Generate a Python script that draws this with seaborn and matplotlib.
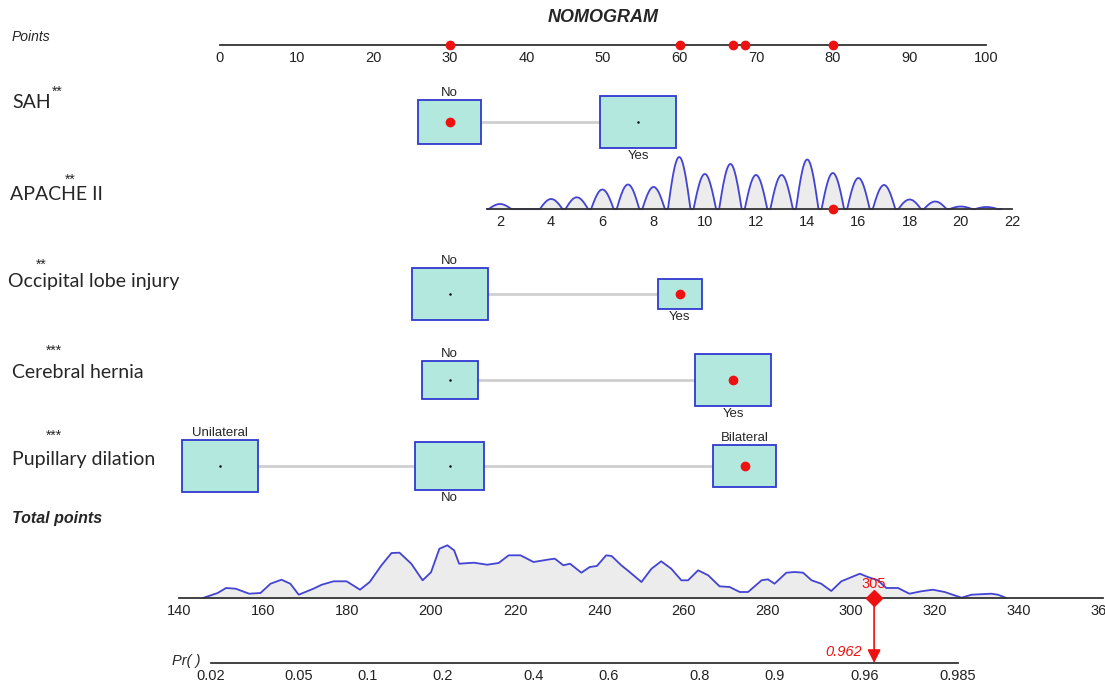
"""
Nomogram: SAH, APACHE II, occipital lobe injury, cerebral hernia and
pupillary dilation -> total points -> predicted probability.
"""

import numpy as np
import matplotlib
matplotlib.use("Agg")
import matplotlib.pyplot as plt
import seaborn as sns
from matplotlib import font_manager
from matplotlib.patches import Rectangle, ConnectionPatch
from matplotlib.transforms import blended_transform_factory
from matplotlib.ticker import NullLocator


# ---------------- values ----------------
point_ticks = list(range(0, 101, 10))

sah_levels = ['No', 'Yes']
sah_points = [30, 54.6]
sah_freq = [0.41, 0.59]

occipital_levels = ['No', 'Yes']
occipital_points = [30, 60]
occipital_freq = [0.75, 0.25]

hernia_levels = ['No', 'Yes']
hernia_points = [30, 67]
hernia_freq = [0.35, 0.65]

pupil_levels = ['Unilateral', 'No', 'Bilateral']
pupil_points = [0, 30, 68.5]
pupil_freq = [0.40, 0.33, 0.27]

apache_values = list(range(2, 22))
apache_density = [5, 0, 10, 11.7, 19.5, 24.5, 22, 52, 35, 45,
                  34, 34, 49.5, 36, 31, 24, 9.5, 7.5, 2.5, 2]
apache_ticks = list(range(2, 23, 2))
apache_range = [1.5, 22]
apache_value_ends = [2, 22]          # APACHE II values ...
apache_point_ends = [36.55, 103.4]   # ... and their points

total_grid = [145.7, 149.2, 151.2, 153.5, 156.7, 159.4, 161.8, 164.4, 166.5,
              168.5, 172, 174, 176.8, 179.9, 183.1, 185.4, 188.2, 190.6,
              192.5, 195.3, 198, 200, 202, 203.9, 205.5, 206.7, 210.2, 213.4,
              216.1, 218.5, 221.3, 224.4, 228.3, 229.5, 231.5, 233.1, 235.8,
              237.8, 239.5, 241.7, 243, 245.3, 247, 250.1, 252.5, 254.8,
              257.2, 259.6, 261.2, 263.6, 266, 268.7, 271.1, 273.5, 275.5,
              278.7, 280.2, 281.8, 284.6, 286.6, 288.6, 290.6, 292.9, 295.3,
              297.7, 302.1, 304, 306.4, 308.4, 311.2, 313.9, 316.7, 319.5,
              322.3, 326.3, 328.7, 333.4, 335, 337]
total_density = [0, 5, 10, 9.3, 4.3, 5, 14.3, 18.3, 14.3,
                 3.3, 9.3, 13.3, 16.7, 16.7, 8.3, 16, 32.7, 45,
                 45.3, 34.3, 17.7, 25.7, 49.3, 52.7, 47.7, 34.3, 35.3, 33.3,
                 35, 42.7, 42.7, 36, 38.7, 39.3, 32.7, 34.3, 25.3,
                 31, 32, 42.7, 42, 32.7, 27, 16, 29.3, 36.7,
                 29.3, 17.7, 17.7, 27.7, 22.7, 11.7, 11, 6, 6,
                 17.7, 18.7, 14.3, 25.3, 26, 25.3, 17.7, 14.3, 7,
                 16.7, 24.3, 21, 17.7, 10, 10, 4.3, 6.7, 8.3,
                 6, 0.3, 3.3, 4.3, 3.3, 0]
total_ticks = list(range(140, 361, 20))

pr_ticks = [0.02, 0.05, 0.1, 0.2, 0.4, 0.6, 0.8, 0.9, 0.96, 0.985]
pr_centre, pr_spread = 233.3, 22.02   # logit(p) = (total - centre) / spread

# the patient marked in red
pick_sah = 'No'
pick_apache = 15
pick_occipital = 'Yes'
pick_hernia = 'Yes'
pick_pupil = 'Bilateral'
pick_pr_label = 0.962


# ---------------- layout and style ----------------
W, H = 1105, 687
PT0, PX_PER_PT = 220, 7.66       # points scale: 0 at x=220 px
TOT0, PX_PER_TOT = 179, 4.2      # total points scale: 140 at x=179 px
BOX_W, BOX_H = 76, 52            # biggest box of a variable, px

BOX_FILL = '#B3E8DF'
BOX_EDGE = '#3038D0'
CURVE = '#4343D4'
SHADE = '#ECECEC'
LINK = '#CFCFCF'
MARK = '#EE1111'

sns.set_style("white")
names = {f.name for f in font_manager.fontManager.ttflist}
NARROW = 'Liberation Sans Narrow' if 'Liberation Sans Narrow' in names else 'Liberation Sans'
TICK_SIZE = 12 if NARROW.endswith('Narrow') else 10.5
plt.rcParams['font.family'] = [NARROW, 'DejaVu Sans']
LABEL_FONT = 'Lato'

fig = plt.figure(figsize=(W / 100, H / 100), dpi=100)
fig.patch.set_facecolor('white')


def row_axes(yc, h):
    """Full-width transparent axes centred on pixel row yc, y in px."""
    ax = fig.add_axes([0, 1 - (yc + h / 2) / H, 1, h / H])
    ax.set_ylim(-h / 2, h / 2)
    ax.patch.set_alpha(0)
    for s in ax.spines.values():
        s.set_visible(False)
    ax.set_yticks([])
    ax.set_xticks([])
    return ax


def scale_line(ax, lo, hi, ticks, labels=None):
    sp = ax.spines['bottom']
    sp.set_visible(True)
    sp.set_position(('data', 0))
    sp.set_bounds(lo, hi)
    sp.set_linewidth(1.3)
    sp.set_color('#333333')
    ax.set_xticks(ticks)
    ax.set_xticklabels(labels if labels else [f'{t:g}' for t in ticks])
    ax.xaxis.set_minor_locator(NullLocator())
    ax.tick_params(axis='x', direction='out', length=3.5, width=1, pad=1,
                   labelsize=TICK_SIZE, colors='#222222')


pts_xlim = (-PT0 / PX_PER_PT, (W - PT0) / PX_PER_PT)


def category_row(yc, levels, points, freq, pick):
    ax = row_axes(yc, 70)
    ax.set_xlim(*pts_xlim)
    ax.plot([min(points), max(points)], [0, 0], color=LINK, lw=2, zorder=1)
    fmax = max(freq)
    for i, (lev, p, f) in enumerate(zip(levels, points, freq)):
        s = np.sqrt(f / fmax)
        w, h = BOX_W * s / PX_PER_PT, BOX_H * s
        ax.add_patch(Rectangle((p - w / 2, -h / 2), w, h, facecolor=BOX_FILL,
                               edgecolor=BOX_EDGE, lw=1.3, zorder=2))
        if lev == pick:
            ax.plot(p, 0, 'o', color=MARK, ms=6, zorder=3)
        else:
            ax.plot(p, 0, '.', color='black', ms=1.5, zorder=3)
        if i % 2 == 0:
            ax.text(p, h / 2 + 1, lev, ha='center', va='bottom', fontsize=TICK_SIZE - 1)
        else:
            ax.text(p, -h / 2 - 2, lev, ha='center', va='top', fontsize=TICK_SIZE - 1)
    return points[levels.index(pick)]


# ---------------- points scale ----------------
ax_pts = row_axes(45, 20)
ax_pts.set_xlim(*pts_xlim)
scale_line(ax_pts, 0, 100, point_ticks)

# ---------------- categorical rows ----------------
p_sah = category_row(122, sah_levels, sah_points, sah_freq, pick_sah)
p_occ = category_row(294, occipital_levels, occipital_points, occipital_freq, pick_occipital)
p_her = category_row(380, hernia_levels, hernia_points, hernia_freq, pick_hernia)
p_pup = category_row(466, pupil_levels, pupil_points, pupil_freq, pick_pupil)

# ---------------- APACHE II ----------------
v_per_pt = (apache_value_ends[1] - apache_value_ends[0]) / (apache_point_ends[1] - apache_point_ends[0])
ax_ap = row_axes(209, 120)
ax_ap.set_xlim(*(apache_value_ends[0] + (p - apache_point_ends[0]) * v_per_pt for p in pts_xlim))
scale_line(ax_ap, apache_range[0], apache_range[1], apache_ticks)

ap_x, ap_y = [apache_range[0]], [0.0]
u = np.linspace(-1, 1, 41)
for v, d in zip(apache_values, apache_density):
    ap_x.extend(v + 0.44 * u)
    ap_y.extend(d * np.cos(np.pi / 2 * u))
ap_x.append(apache_range[1] - 0.4)
ap_y.append(0.0)
ax_ap.fill_between(ap_x, 0, ap_y, color=SHADE, zorder=0)
sns.lineplot(x=ap_x, y=ap_y, ax=ax_ap, color=CURVE, lw=1.3, estimator=None,
             sort=False, zorder=1)
ax_ap.plot(pick_apache, 0, 'o', color=MARK, ms=6, zorder=5, clip_on=False)
p_ap = apache_point_ends[0] + (pick_apache - apache_value_ends[0]) / v_per_pt

# red marks on the points scale
for p in [p_sah, p_ap, p_occ, p_her, p_pup]:
    ax_pts.plot(p, 0, 'o', color=MARK, ms=6, zorder=5, clip_on=False)

# ---------------- total points ----------------
tot_xlim = (140 - TOT0 / PX_PER_TOT, 140 + (W - TOT0) / PX_PER_TOT)
ax_tot = row_axes(598, 130)
ax_tot.set_xlim(*tot_xlim)
scale_line(ax_tot, 140, 360, total_ticks)
ax_tot.fill_between(total_grid, 0, total_density, color=SHADE, zorder=0)
sns.lineplot(x=total_grid, y=total_density, ax=ax_tot, color=CURVE, lw=1.3,
             estimator=None, sort=False, zorder=1)

total = p_sah + p_ap + p_occ + p_her + p_pup
ax_tot.plot(total, 0, 'D', color=MARK, ms=8, zorder=6, clip_on=False)
ax_tot.annotate(f'{int(total)}', xy=(total, 0), xytext=(0, 5),
                textcoords='offset points', ha='center', va='bottom',
                color=MARK, fontsize=TICK_SIZE)

# ---------------- probability ----------------
def expit(z):
    return 1 / (1 + np.exp(-z))


ax_pr = row_axes(663, 30)
ax_pr.set_xscale('logit')
ax_pr.set_xlim(*(expit((t - pr_centre) / pr_spread) for t in tot_xlim))
scale_line(ax_pr, pr_ticks[0], pr_ticks[-1], pr_ticks)

p_pat = expit((total - pr_centre) / pr_spread)
ax_pr.annotate(f'{pick_pr_label:g}', xy=(p_pat, 0), xytext=(-9, 3),
               textcoords='offset points', ha='right', va='bottom',
               color=MARK, fontsize=TICK_SIZE, style='italic')

arrow = ConnectionPatch(xyA=(total, 0), coordsA=ax_tot.transData,
                        xyB=(total, 0),
                        coordsB=blended_transform_factory(ax_tot.transData, ax_pr.transData),
                        arrowstyle='-|>', color=MARK, lw=1.2,
                        mutation_scale=20, shrinkA=0, shrinkB=0, zorder=5)
fig.add_artist(arrow)

# ---------------- texts ----------------
def ftext(x, y, s, **kw):
    fig.text(x / W, 1 - y / H, s, va='center', **kw)


ftext(603, 18, 'NOMOGRAM', ha='center', fontsize=13, fontweight='bold',
      style='italic', family='Liberation Sans')
ftext(12, 37, 'Points', fontsize=10, style='italic', family='Liberation Sans')
ftext(12, 519, 'Total points', fontsize=11.5, fontweight='bold',
      style='italic', family='Liberation Sans')
ftext(201, 661, 'Pr( )', ha='right', fontsize=10.5, style='italic',
      family='Liberation Sans')

row_labels = [('SAH', 12, 103, '**', 57, 92),
              ('APACHE II', 10, 195, '**', 70, 180),
              ('Occipital lobe injury', 8, 281, '**', 41, 265),
              ('Cerebral hernia', 12, 373, '***', 54, 351),
              ('Pupillary dilation', 12, 459, '***', 54, 436)]
for name, x, y, stars, sx, sy in row_labels:
    ftext(x, y, name, fontsize=14, family=LABEL_FONT)
    ftext(sx, sy, stars, ha='center', fontsize=10, family='Liberation Sans')

fig.savefig('out.png', dpi=100, facecolor='white')
